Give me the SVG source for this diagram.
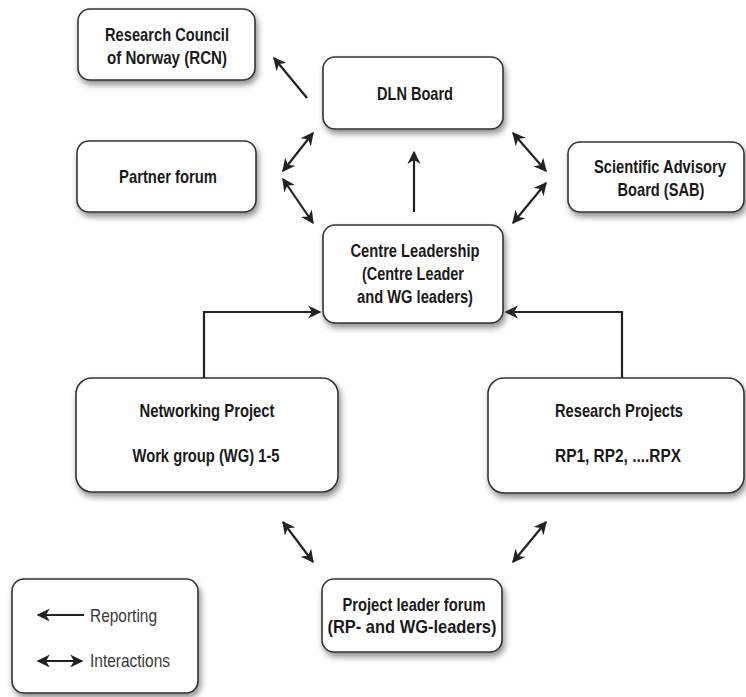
<svg xmlns="http://www.w3.org/2000/svg" width="746" height="697" viewBox="0 0 746 697">
<defs>
<filter id="sh" x="-10%" y="-10%" width="125%" height="135%">
<feDropShadow dx="2" dy="4" stdDeviation="3" flood-color="#000" flood-opacity="0.45"/>
</filter>
<marker id="ah" viewBox="0 0 10 10" refX="9" refY="5" markerWidth="6" markerHeight="6" orient="auto-start-reverse" markerUnits="strokeWidth">
<path d="M0,0 L10,5 L0,10 L3,5 Z" fill="#222"/>
</marker>
<style>
.box{fill:#fff;stroke:#333;stroke-width:1.6;filter:url(#sh)}
.t{font-family:"Liberation Sans",Arial,sans-serif;font-weight:bold;font-size:18.5px;fill:#1a1a1a;text-anchor:middle}
.lg{font-family:"Liberation Sans",Arial,sans-serif;font-size:19px;fill:#3a3a3a}
.c{stroke:#222;stroke-width:2.2;fill:none}
.r{marker-end:url(#ah)}
.i{marker-start:url(#ah);marker-end:url(#ah)}
</style>
</defs>
<rect width="746" height="697" fill="#fff"/>
<g id="rcn"><rect class="box" x="78" y="9" width="177" height="71" rx="12"/><text class="t" x="167" y="41" textLength="124" lengthAdjust="spacingAndGlyphs">Research Council</text><text class="t" x="167" y="64" textLength="120" lengthAdjust="spacingAndGlyphs">of Norway (RCN)</text></g>
<g id="dln"><rect class="box" x="323" y="57" width="180" height="72" rx="12"/><text class="t" x="415" y="100" textLength="76" lengthAdjust="spacingAndGlyphs">DLN Board</text></g>
<g id="partner"><rect class="box" x="77" y="141" width="179" height="71" rx="12"/><text class="t" x="168" y="183" textLength="98" lengthAdjust="spacingAndGlyphs">Partner forum</text></g>
<g id="sab"><rect class="box" x="568" y="142" width="176" height="70" rx="12"/><text class="t" x="660" y="173" textLength="132" lengthAdjust="spacingAndGlyphs" style="font-size:17.5px">Scientific Advisory</text><text class="t" x="661" y="196" textLength="87" lengthAdjust="spacingAndGlyphs">Board (SAB)</text></g>
<g id="centre"><rect class="box" x="323" y="225" width="180" height="98" rx="12"/><text class="t" x="415" y="257" textLength="129" lengthAdjust="spacingAndGlyphs">Centre Leadership</text><text class="t" x="413" y="280" textLength="102" lengthAdjust="spacingAndGlyphs">(Centre Leader</text><text class="t" x="415" y="303" textLength="116" lengthAdjust="spacingAndGlyphs">and WG leaders)</text></g>
<g id="networking"><rect class="box" x="76" y="378" width="262" height="114" rx="16"/><text class="t" x="207" y="417" textLength="135" lengthAdjust="spacingAndGlyphs">Networking Project</text><text class="t" x="206" y="462" textLength="147" lengthAdjust="spacingAndGlyphs">Work group (WG) 1-5</text></g>
<g id="research"><rect class="box" x="488" y="378" width="256" height="115" rx="16"/><text class="t" x="619" y="417" textLength="128" lengthAdjust="spacingAndGlyphs">Research Projects</text><text class="t" x="618" y="462" textLength="126" lengthAdjust="spacingAndGlyphs">RP1, RP2, ....RPX</text></g>
<g id="plf"><rect class="box" x="322" y="579" width="180" height="73" rx="12"/><text class="t" x="414" y="611" textLength="143" lengthAdjust="spacingAndGlyphs">Project leader forum</text><text class="t" x="412" y="633" textLength="169" lengthAdjust="spacingAndGlyphs">(RP- and WG-leaders)</text></g>
<g id="legend"><rect class="box" x="12" y="579" width="186" height="114" rx="12"/>
<line class="c r" x1="84" y1="615" x2="38" y2="615"/><text class="lg" x="90" y="622" textLength="67" lengthAdjust="spacingAndGlyphs">Reporting</text>
<line class="c i" x1="38" y1="661" x2="82" y2="661"/><text class="lg" x="90" y="667" textLength="80" lengthAdjust="spacingAndGlyphs">Interactions</text></g>
<g id="connectors">
<line class="c r" x1="307" y1="98" x2="274" y2="58"/>
<line class="c i" x1="313" y1="133" x2="283" y2="171"/>
<line class="c i" x1="283" y1="179" x2="313" y2="223"/>
<line class="c i" x1="513" y1="133" x2="546" y2="171"/>
<line class="c i" x1="546" y1="183" x2="513" y2="223"/>
<line class="c r" x1="414" y1="212" x2="414" y2="152"/>
<polyline class="c r" points="204,378 204,312 320,312"/>
<polyline class="c r" points="622,378 622,312 506,312"/>
<line class="c i" x1="283" y1="522" x2="313" y2="562"/>
<line class="c i" x1="546" y1="522" x2="513" y2="562"/>
</g>
</svg>
